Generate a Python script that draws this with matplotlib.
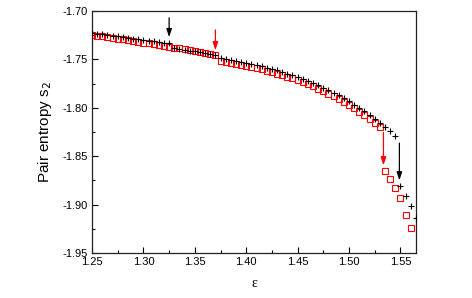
"""
Pair entropy s2 vs epsilon: two series with jump markers.
"""

import numpy as np
import matplotlib
matplotlib.use("Agg")
import matplotlib.pyplot as plt
from matplotlib.ticker import MultipleLocator

plt.rcParams["font.family"] = ["Liberation Sans", "DejaVu Sans"]

# ---- Data ----
eps_black = [
    1.250, 1.255, 1.260, 1.265, 1.270, 1.275, 1.280, 1.285, 1.290, 1.295,
    1.300, 1.305, 1.310, 1.315, 1.320, 1.325, 1.330, 1.335, 1.340, 1.345,
    1.350, 1.355, 1.360, 1.365, 1.370, 1.375, 1.380, 1.385, 1.390, 1.395,
    1.400, 1.405, 1.410, 1.415, 1.420, 1.425, 1.430, 1.435, 1.440, 1.445,
    1.450, 1.455, 1.460, 1.465, 1.470, 1.475, 1.480, 1.485, 1.490, 1.495,
    1.500, 1.505, 1.510, 1.515, 1.520, 1.525, 1.530, 1.535, 1.540, 1.545,
    1.550, 1.555, 1.560, 1.565,
]
s2_black = [
    -1.7227, -1.7234, -1.7241, -1.7248, -1.7255, -1.7262, -1.7270, -1.7277, -1.7284, -1.7291,
    -1.7298, -1.7305, -1.7313, -1.7320, -1.7327, -1.7334, -1.7380, -1.7389, -1.7399, -1.7408,
    -1.7418, -1.7427, -1.7436, -1.7446, -1.7455, -1.7490, -1.7499, -1.7508, -1.7518, -1.7528,
    -1.7538, -1.7549, -1.7561, -1.7573, -1.7586, -1.7599, -1.7614, -1.7629, -1.7646, -1.7663,
    -1.7681, -1.7701, -1.7721, -1.7743, -1.7766, -1.7791, -1.7816, -1.7843, -1.7872, -1.7902,
    -1.7933, -1.7966, -1.8000, -1.8036, -1.8074, -1.8113, -1.8154, -1.8197, -1.8242, -1.8288,
    -1.8808, -1.8908, -1.9014, -1.9135,
]

eps_red = [
    1.250, 1.255, 1.260, 1.265, 1.270, 1.275, 1.280, 1.285, 1.290, 1.295,
    1.300, 1.305, 1.310, 1.315, 1.320, 1.325, 1.330, 1.335, 1.340, 1.345,
    1.350, 1.355, 1.360, 1.365, 1.370, 1.375, 1.380, 1.385, 1.390, 1.395,
    1.400, 1.405, 1.410, 1.415, 1.420, 1.425, 1.430, 1.435, 1.440, 1.445,
    1.450, 1.455, 1.460, 1.465, 1.470, 1.475, 1.480, 1.485, 1.490, 1.495,
    1.500, 1.505, 1.510, 1.515, 1.520, 1.525, 1.530, 1.535, 1.540, 1.545,
    1.550, 1.555, 1.560,
]
s2_red = [
    -1.7247, -1.7255, -1.7262, -1.7270, -1.7278, -1.7285, -1.7293, -1.7301, -1.7309, -1.7318,
    -1.7326, -1.7334, -1.7343, -1.7351, -1.7360, -1.7369, -1.7377, -1.7386, -1.7395, -1.7404,
    -1.7414, -1.7423, -1.7432, -1.7442, -1.7451, -1.7520, -1.7529, -1.7538, -1.7548, -1.7558,
    -1.7568, -1.7580, -1.7592, -1.7604, -1.7617, -1.7631, -1.7646, -1.7661, -1.7679, -1.7696,
    -1.7715, -1.7735, -1.7756, -1.7778, -1.7802, -1.7827, -1.7853, -1.7881, -1.7910, -1.7941,
    -1.7973, -1.8007, -1.8041, -1.8078, -1.8117, -1.8157, -1.8199, -1.8653, -1.8736, -1.8832,
    -1.8935, -1.9107, -1.9245,
]

# arrows: (x, y_start, y_end, colour)
arrows = [
    (1.325, -1.7070, -1.7270, "black"),
    (1.370, -1.7195, -1.7405, "red"),
    (1.5335, -1.8255, -1.8595, "red"),
    (1.5490, -1.8365, -1.8750, "black"),
]

fig = plt.figure(figsize=(4.72, 2.98), dpi=100)
ax = fig.add_axes([0.195, 0.151, 0.686, 0.812])

ax.plot(eps_black, s2_black, linestyle="none", marker="+", color="black",
        markersize=5, markeredgewidth=0.8, zorder=3)
ax.plot(eps_red, s2_red, linestyle="none", marker="s", color="red",
        markersize=3.8, markeredgewidth=0.8, fillstyle="none", zorder=2)

for x, y0, y1, c in arrows:
    ax.annotate("", xy=(x, y1), xytext=(x, y0),
                arrowprops=dict(arrowstyle="-|>,head_length=0.6,head_width=0.2",
                                color=c, lw=0.9, mutation_scale=8,
                                shrinkA=0, shrinkB=0))

ax.set_xlim(1.25, 1.565)
ax.set_ylim(-1.95, -1.70)
ax.xaxis.set_major_locator(MultipleLocator(0.05))
ax.xaxis.set_minor_locator(MultipleLocator(0.025))
ax.yaxis.set_major_locator(MultipleLocator(0.05))
ax.yaxis.set_minor_locator(MultipleLocator(0.025))
ax.xaxis.set_major_formatter(plt.FormatStrFormatter("%.2f"))
ax.yaxis.set_major_formatter(plt.FormatStrFormatter("%.2f"))

ax.tick_params(which="both", direction="in", top=False, right=False,
               labelsize=8, width=0.8)
ax.tick_params(axis="x", pad=3)
ax.tick_params(axis="y", pad=3)
ax.tick_params(which="major", length=4)
ax.tick_params(which="minor", length=2)
for sp in ax.spines.values():
    sp.set_linewidth(0.9)
    sp.set_color("#222222")

ax.set_ylabel("Pair entropy s$_2$", fontsize=11, labelpad=6)
ax.set_xlabel("ε", fontsize=10, family=["Liberation Serif", "DejaVu Serif"],
              labelpad=7)

fig.savefig("out.png", dpi=100)
